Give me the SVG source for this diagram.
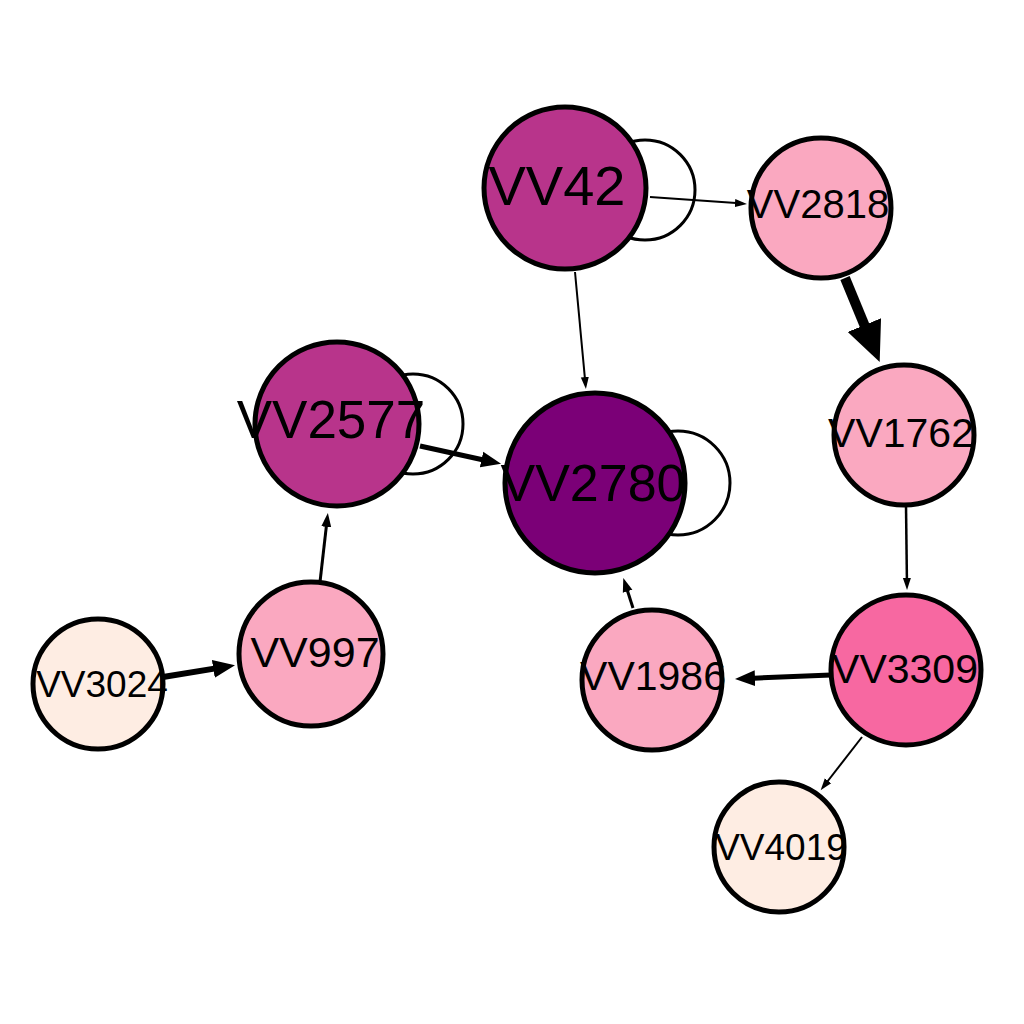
<svg xmlns="http://www.w3.org/2000/svg" width="1024" height="1024" viewBox="0 0 1024 1024">
<style>
.node{stroke:#000;stroke-width:5}
.lbl{font-family:"Liberation Sans",Arial,sans-serif;text-anchor:middle;fill:#000}
.e{stroke:#000;fill:none}
.loop{stroke:#000;stroke-width:3;fill:none}
</style>
<defs>
<marker id="hs" markerUnits="userSpaceOnUse" markerWidth="14" markerHeight="10" refX="1" refY="5" orient="auto"><path d="M0,1 L12,5 L0,9 z" fill="#000"/></marker>
<marker id="hm" markerUnits="userSpaceOnUse" markerWidth="16" markerHeight="12" refX="1" refY="6" orient="auto"><path d="M0,1 L14,6 L0,11 z" fill="#000"/></marker>
<marker id="hl" markerUnits="userSpaceOnUse" markerWidth="22" markerHeight="18" refX="1" refY="9" orient="auto"><path d="M0,1 L20,9 L0,17 z" fill="#000"/></marker>
<marker id="hx" markerUnits="userSpaceOnUse" markerWidth="24" markerHeight="20" refX="1" refY="10" orient="auto"><path d="M0,1 L22,10 L0,19 z" fill="#000"/></marker>
<marker id="hxx" markerUnits="userSpaceOnUse" markerWidth="42" markerHeight="36" refX="1" refY="18" orient="auto"><path d="M0,0 L40,18 L0,36 z" fill="#000"/></marker>
</defs>
<rect width="1024" height="1024" fill="#fff"/>
<g id="edges">
<circle class="loop" cx="645" cy="190" r="50"/>
<circle class="loop" cx="413" cy="424" r="50"/>
<circle class="loop" cx="678" cy="483" r="52"/>
<line class="e" stroke-width="2" x1="650" y1="197" x2="736" y2="203.1" marker-end="url(#hs)"/>
<line class="e" stroke-width="2" x1="575" y1="272" x2="584.9" y2="378.1" marker-end="url(#hs)"/>
<line class="e" stroke-width="10" x1="845" y1="278" x2="864.8" y2="326" marker-end="url(#hxx)"/>
<line class="e" stroke-width="5" x1="420" y1="446" x2="482.5" y2="459.7" marker-end="url(#hl)"/>
<line class="e" stroke-width="3" x1="320" y1="582" x2="326.4" y2="525.9" marker-end="url(#hm)"/>
<line class="e" stroke-width="6" x1="163" y1="677" x2="214.3" y2="668.6" marker-end="url(#hx)"/>
<line class="e" stroke-width="3" x1="633" y1="608" x2="627.3" y2="590.3" marker-end="url(#hm)"/>
<line class="e" stroke-width="5" x1="831" y1="675" x2="754" y2="678.2" marker-end="url(#hl)"/>
<line class="e" stroke-width="2.5" x1="906" y1="506" x2="906.9" y2="579" marker-end="url(#hs)"/>
<line class="e" stroke-width="2" x1="862" y1="737" x2="827.4" y2="781.5" marker-end="url(#hs)"/>
</g>
<g id="VV42"><circle class="node" cx="565" cy="188" r="81" fill="#B8348B"/><text class="lbl" x="557" y="205" font-size="56">VV42</text></g>
<g id="VV2818"><circle class="node" cx="821" cy="208" r="70" fill="#FAA8C0"/><text class="lbl" x="818" y="218" font-size="40">VV2818</text></g>
<g id="VV2577"><circle class="node" cx="337" cy="424" r="82" fill="#B8348B"/><text class="lbl" x="331" y="438" font-size="53">VV2577</text></g>
<g id="VV2780"><circle class="node" cx="595" cy="483" r="90" fill="#7B0077"/><text class="lbl" x="593" y="501" font-size="52">VV2780</text></g>
<g id="VV1762"><circle class="node" cx="904" cy="435" r="70" fill="#FAA8C0"/><text class="lbl" x="901" y="447" font-size="41">VV1762</text></g>
<g id="VV997"><circle class="node" cx="311" cy="654" r="72" fill="#FAA8C0"/><text class="lbl" x="315" y="667" font-size="43">VV997</text></g>
<g id="VV3024"><circle class="node" cx="98" cy="684" r="65" fill="#FEEDE3"/><text class="lbl" x="102" y="697" font-size="37">VV3024</text></g>
<g id="VV1986"><circle class="node" cx="652" cy="680" r="70" fill="#FAA8C0"/><text class="lbl" x="653" y="690" font-size="41">VV1986</text></g>
<g id="VV3309"><circle class="node" cx="906" cy="670" r="75" fill="#F768A1"/><text class="lbl" x="905" y="683" font-size="41">VV3309</text></g>
<g id="VV4019"><circle class="node" cx="779" cy="847" r="65" fill="#FEEDE3"/><text class="lbl" x="781" y="860" font-size="37">VV4019</text></g>
</svg>
